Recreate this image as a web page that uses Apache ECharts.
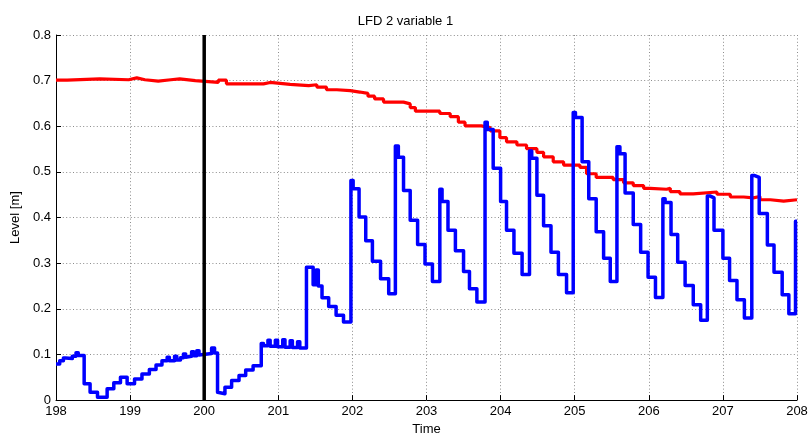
<!DOCTYPE html>
<html>
<head>
<meta charset="utf-8">
<title>LFD 2 variable 1</title>
<script src="https://cdn.jsdelivr.net/npm/echarts@6/dist/echarts.min.js"></script>
<style>
  html, body { margin: 0; padding: 0; background: #fff; }
  #chart { width: 811px; height: 441px; }
</style>
</head>
<body>
<div id="chart"></div>
<script>
// blue level (step values, each holds until the next time)
const blueT = [
  198.00, 198.05, 198.10, 198.13, 198.22, 198.27, 198.30, 198.38, 198.46, 198.56,
  198.69, 198.78, 198.87, 198.96, 199.06, 199.16, 199.26, 199.35, 199.43, 199.50,
  199.53, 199.60, 199.63, 199.68, 199.72, 199.75, 199.77, 199.83, 199.86, 199.90,
  199.93, 199.95, 200.10, 200.14, 200.18, 200.20, 200.28, 200.37, 200.47, 200.56,
  200.66, 200.77, 200.80, 200.86, 200.89, 200.96, 200.99, 201.06, 201.09, 201.16,
  201.19, 201.26, 201.29, 201.38, 201.47, 201.51, 201.54, 201.59, 201.68, 201.78,
  201.88, 201.98, 202.01, 202.09, 202.18, 202.27, 202.38, 202.49, 202.58, 202.62,
  202.69, 202.78, 202.88, 202.98, 203.08, 203.18, 203.21, 203.29, 203.39, 203.50,
  203.58, 203.68, 203.79, 203.82, 203.90, 204.00, 204.08, 204.18, 204.29, 204.39,
  204.42, 204.49, 204.58, 204.68, 204.78, 204.89, 204.98, 205.01, 205.10, 205.19,
  205.29, 205.39, 205.48, 205.57, 205.61, 205.68, 205.79, 205.89, 205.99, 206.09,
  206.19, 206.22, 206.30, 206.39, 206.49, 206.60, 206.70, 206.79, 206.83, 206.88,
  207.00, 207.09, 207.19, 207.29, 207.39, 207.43, 207.49, 207.60, 207.69, 207.80,
  207.89, 207.98, 208.00
];
const blueY = [
  0.079, 0.086, 0.092, 0.091, 0.096, 0.104, 0.098, 0.036, 0.017, 0.006,
  0.025, 0.038, 0.050, 0.036, 0.046, 0.057, 0.067, 0.077, 0.086, 0.094,
  0.086, 0.096, 0.088, 0.093, 0.101, 0.094, 0.096, 0.106, 0.097, 0.108,
  0.099, 0.102, 0.114, 0.103, 0.017, 0.014, 0.028, 0.043, 0.054, 0.066,
  0.075, 0.124, 0.119, 0.131, 0.118, 0.131, 0.117, 0.132, 0.116, 0.130,
  0.115, 0.128, 0.114, 0.291, 0.253, 0.285, 0.250, 0.224, 0.205, 0.186,
  0.171, 0.481, 0.463, 0.401, 0.349, 0.304, 0.266, 0.233, 0.557, 0.532,
  0.459, 0.394, 0.341, 0.298, 0.260, 0.462, 0.435, 0.372, 0.327, 0.282,
  0.244, 0.215, 0.609, 0.593, 0.508, 0.435, 0.372, 0.322, 0.275, 0.546,
  0.530, 0.449, 0.382, 0.324, 0.275, 0.235, 0.630, 0.619, 0.522, 0.441,
  0.369, 0.311, 0.260, 0.555, 0.540, 0.454, 0.385, 0.324, 0.269, 0.225,
  0.441, 0.433, 0.363, 0.302, 0.251, 0.209, 0.175, 0.447, 0.443, 0.372,
  0.311, 0.262, 0.220, 0.180, 0.492, 0.488, 0.409, 0.340, 0.280, 0.231,
  0.189, 0.392, 0.392
];

// red level
const redT = [
  198.00, 198.15, 198.59, 198.98, 199.09, 199.20, 199.38, 199.55, 199.67, 199.88,
  200.19, 200.30, 200.80, 200.89, 201.16, 201.41, 201.52, 201.65, 201.79, 201.97,
  202.10, 202.21, 202.30, 202.42, 202.69, 202.78, 202.85, 203.18, 203.32, 203.43,
  203.52, 203.74, 203.86, 203.99, 204.08, 204.22, 204.35, 204.49, 204.58, 204.71,
  204.85, 205.07, 205.16, 205.29, 205.52, 205.66, 205.79, 205.93, 206.02, 206.24,
  206.29, 206.42, 206.60, 206.92, 207.10, 207.28, 207.41, 207.50, 207.64, 207.82,
  208.00
];
const redY = [
  0.701, 0.704, 0.702, 0.706, 0.702, 0.699, 0.702, 0.704, 0.700, 0.696,
  0.701, 0.693, 0.696, 0.692, 0.689, 0.691, 0.686, 0.680, 0.678, 0.675,
  0.672, 0.666, 0.660, 0.653, 0.649, 0.641, 0.633, 0.628, 0.621, 0.609,
  0.601, 0.597, 0.590, 0.575, 0.566, 0.559, 0.551, 0.543, 0.533, 0.522,
  0.515, 0.510, 0.496, 0.488, 0.483, 0.476, 0.470, 0.464, 0.462, 0.464,
  0.457, 0.452, 0.456, 0.451, 0.445, 0.443, 0.446, 0.439, 0.436, 0.439,
  0.438
];

// vertical marker at t = 200
const markerT = [200, 200];
const markerY = [0, 0.8];

const zip = (xs, ys) => xs.map((x, i) => [x, ys[i]]);

const FONT = 'Liberation Sans, Arial, sans-serif';
const gridDots = { color: '#8c8c8c', type: [1, 2.4], width: 1 };

const chart = echarts.init(document.getElementById('chart'));

chart.setOption({
  animation: false,
  backgroundColor: '#fff',
  title: {
    text: 'LFD 2 variable 1',
    left: 'center',
    top: 10,
    textStyle: { fontFamily: FONT, fontSize: 13, fontWeight: 'normal', color: '#000' },
  },
  grid: { left: 56, right: 14, top: 35, bottom: 38 },
  xAxis: {
    type: 'value',
    min: 198,
    max: 208,
    interval: 1,
    name: 'Time',
    nameLocation: 'middle',
    nameGap: 22,
    nameTextStyle: { fontFamily: FONT, fontSize: 13, color: '#000' },
    axisLine: { onZero: false, lineStyle: { color: '#000', width: 1 } },
    axisTick: { inside: true, length: 5, lineStyle: { color: '#000' } },
    axisLabel: { fontFamily: FONT, fontSize: 13, color: '#000', margin: 5 },
    splitLine: { show: true, lineStyle: gridDots },
  },
  yAxis: {
    type: 'value',
    min: 0,
    max: 0.8,
    interval: 0.1,
    name: 'Level [m]',
    nameLocation: 'middle',
    nameGap: 32,
    nameTextStyle: { fontFamily: FONT, fontSize: 13, color: '#000' },
    axisLine: { show: true, lineStyle: { color: '#000', width: 1 } },
    axisTick: { show: true, inside: true, length: 5, lineStyle: { color: '#000' } },
    axisLabel: {
      fontFamily: FONT, fontSize: 13, color: '#000', margin: 5,
      formatter: v => (v === 0 ? '0' : (+v).toFixed(1)),
    },
    splitLine: { show: true, lineStyle: gridDots },
  },
  series: [
    {
      name: 'red',
      type: 'line',
      step: 'end',
      data: zip(redT, redY),
      showSymbol: false,
      lineStyle: { color: '#ff0000', width: 3.2 },
      itemStyle: { color: '#ff0000' },
      z: 2,
    },
    {
      name: 'blue',
      type: 'line',
      step: 'end',
      data: zip(blueT, blueY),
      showSymbol: false,
      lineStyle: { color: '#0000ff', width: 3.5, join: 'round' },
      itemStyle: { color: '#0000ff' },
      z: 3,
    },
    {
      name: 'marker',
      type: 'line',
      data: zip(markerT, markerY),
      showSymbol: false,
      lineStyle: { color: '#000', width: 3.5 },
      itemStyle: { color: '#000' },
      z: 4,
    },
  ],
});
</script>
</body>
</html>
